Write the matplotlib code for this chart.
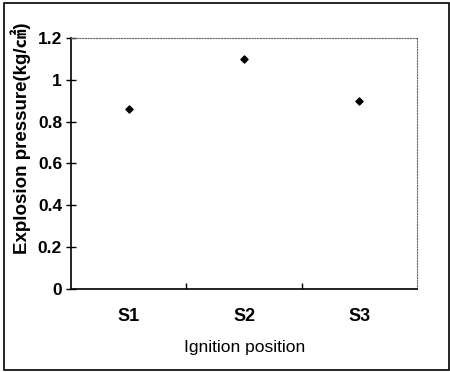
import matplotlib
matplotlib.use("Agg")
import matplotlib.pyplot as plt
from matplotlib.patches import Rectangle

categories = ["S1", "S2", "S3"]
pressure = [0.86, 1.10, 0.90]
yticks = [0, 0.2, 0.4, 0.6, 0.8, 1, 1.2]
ytick_labels = ["0", "0.2", "0.4", "0.6", "0.8", "1", "1.2"]

fig = plt.figure(figsize=(4.5, 3.72), dpi=100)
ax = fig.add_axes([0.158, 0.224, 0.769, 0.673])

x = list(range(len(categories)))
ax.scatter(x, pressure, marker="D", s=13, color="black", zorder=3)

ax.set_xlim(-0.5, len(categories) - 0.5)
ax.set_ylim(0, 1.2)
ax.set_yticks(yticks)
ax.set_yticklabels(ytick_labels, fontsize=12.5, fontweight="bold", family="Liberation Sans")
ax.set_xticks([0.5, 1.5])
ax.set_xticklabels([])
ax.set_xticks(x, minor=True)
ax.set_xticklabels(categories, minor=True, fontsize=13, fontweight="bold", family="Liberation Sans")
ax.tick_params(axis="x", which="minor", length=0, pad=14)
ax.tick_params(axis="x", which="major", direction="in", length=4, width=1)
ax.tick_params(axis="y", direction="inout", length=7, width=1, pad=3)

for s in ["left", "bottom"]:
    ax.spines[s].set_linewidth(1.2)
    ax.spines[s].set_color("black")
for s in ["top", "right"]:
    ax.spines[s].set_linestyle((0, (1, 1.5)))
    ax.spines[s].set_linewidth(0.8)
    ax.spines[s].set_color("#666666")

ax.set_xlabel("Ignition position", fontsize=12.5, family="Liberation Sans", labelpad=11)
fig.text(0.047, 0.628, "Explosion pressure(kg/㎠)", rotation=90, ha="center", va="center",
         fontsize=13.5, fontweight="bold", family=["Liberation Sans", "Noto Sans CJK KR"])

fig.patches.append(Rectangle((0.008, 0.006), 0.99, 0.986, transform=fig.transFigure,
                             fill=False, edgecolor="black", linewidth=1.2))

fig.savefig("out.png", dpi=100)
